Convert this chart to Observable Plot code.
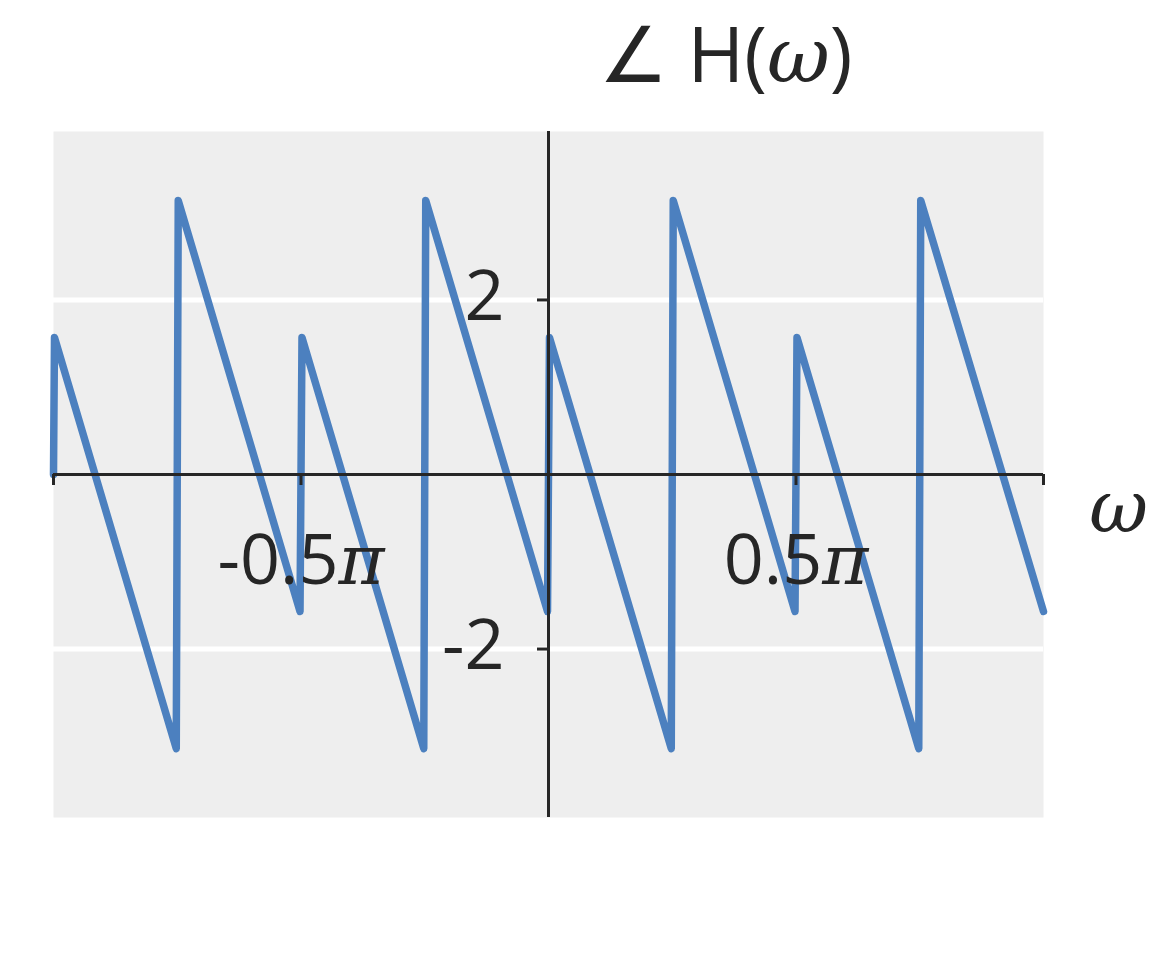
<!DOCTYPE html>
<html><head><meta charset="utf-8">
<script src="https://cdn.jsdelivr.net/npm/d3@7"></script>
<script src="https://cdn.jsdelivr.net/npm/@observablehq/plot@0.6"></script>
<style>body{margin:0;background:#fff;}</style>
</head><body><div id="chart"></div>
<script>
// frequency in units of π, wrapped phase in radians
const omegaPi = [-1, -0.998, -0.752, -0.748, -0.502, -0.498, -0.252, -0.248, -0.002, 0.002, 0.248, 0.252, 0.498, 0.502, 0.748, 0.752, 1];
const phase   = [0, 1.57, -3.14, 3.14, -1.57, 1.57, -3.14, 3.14, -1.57, 1.57, -3.14, 3.14, -1.57, 1.57, -3.14, 3.14, -1.57];
const yTicks = [-2, 2];
const yTickLabels = ["-2", "2"];
const xTickMarks = [-1, -0.5, 0.5, 1];
const xLabelTicks = [-0.5, 0.5];
const xTickLabels = ["-0.5π", "0.5π"];
const titleText = "∠ H(ω)";
const xLabel = "ω";
const yDomain = [-3.93, 3.93];

const points = omegaPi.map((w, i) => ({w, p: phase[i]}));
const ink = "#262626";

const chart = Plot.plot({
  width: 1152, height: 960,
  marginLeft: 53, marginRight: 109, marginTop: 131, marginBottom: 143,
  x: {domain: [-1, 1], axis: null},
  y: {domain: yDomain, axis: null},
  style: {background: "white", fontFamily: "'Open Sans', sans-serif", color: ink},
  marks: [
    Plot.frame({fill: "#eeeeee", stroke: "none"}),
    Plot.ruleY(yTicks, {stroke: "white", strokeWidth: 5}),
    Plot.line(points, {x: "w", y: "p", stroke: "#4c80bf", strokeWidth: 7.5, strokeLinejoin: "round"}),
    Plot.ruleY([0], {stroke: ink, strokeWidth: 3}),
    Plot.ruleX([0], {stroke: ink, strokeWidth: 3}),
    Plot.ruleX(xTickMarks, {x: d => d, y1: 0, y2: 0, insetBottom: -11, stroke: ink, strokeWidth: 3}),
    Plot.ruleY(yTicks, {y: d => d, x1: 0, x2: 0, insetLeft: -11, stroke: ink, strokeWidth: 3}),
    Plot.text(xLabelTicks, {x: d => d, y: 0, text: (d, i) => xTickLabels[i], dy: 87, fontSize: 70, fill: ink}),
    Plot.text(yTicks, {x: 0, y: d => d, text: (d, i) => yTickLabels[i], textAnchor: "end", dx: -44, dy: -2, fontSize: 70, fill: ink}),
    Plot.text([titleText], {frameAnchor: "top", text: d => d, lineAnchor: "bottom", dx: 177, dy: -50, fontSize: 77, fill: ink}),
    Plot.text([xLabel], {frameAnchor: "right", text: d => d, lineAnchor: "bottom", textAnchor: "middle", dx: 75, dy: 57, fontSize: 72, fill: ink})
  ]
});

// italicize math symbols
const NS = "http://www.w3.org/2000/svg";
chart.querySelectorAll("text").forEach(t => {
  const s = t.textContent;
  if (!/[πω]/.test(s) || t.children.length) return;
  t.textContent = "";
  let buf = "";
  const flush = () => { if (buf) { t.appendChild(document.createTextNode(buf)); buf = ""; } };
  for (const ch of s) {
    if (ch === "π" || ch === "ω") {
      flush();
      const ts = document.createElementNS(NS, "tspan");
      ts.setAttribute("font-style", "italic");
      ts.setAttribute("font-family", "'DejaVu Serif', serif");
      ts.textContent = ch;
      t.appendChild(ts);
    } else buf += ch;
  }
  flush();
});

document.getElementById("chart").appendChild(chart);
</script>
</body></html>
